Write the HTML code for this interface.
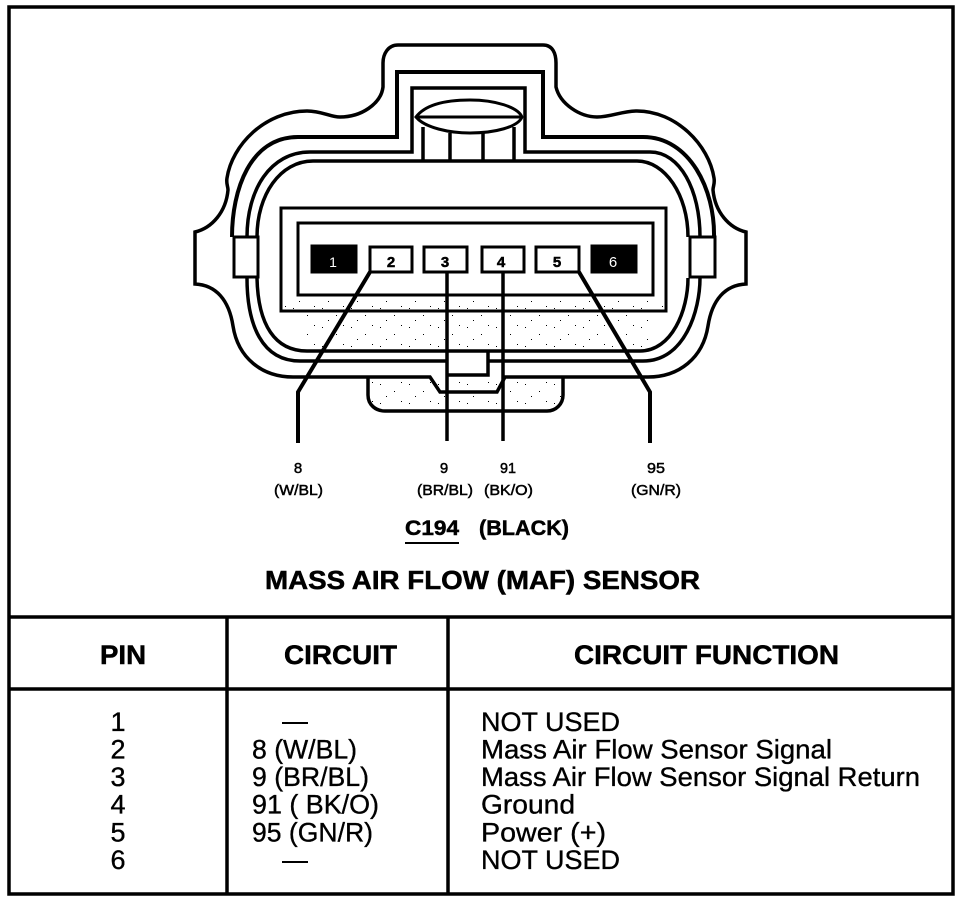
<!DOCTYPE html>
<html>
<head>
<meta charset="utf-8">
<title>Mass Air Flow Sensor</title>
<style>
html,body{margin:0;padding:0;background:#fff;width:976px;height:904px;overflow:hidden}
svg{display:block}
text{font-family:"Liberation Sans",Arial,sans-serif;fill:#000}
.b{font-weight:bold;stroke:#000;stroke-width:.5px}
.s{font-size:15px;stroke:#000;stroke-width:.5px}
.r{font-size:27px;stroke:#000;stroke-width:.35px}
</style>
</head>
<body>
<svg width="976" height="904" viewBox="0 0 976 904" xmlns="http://www.w3.org/2000/svg">
<defs>
<pattern id="dots" width="29" height="19" patternUnits="userSpaceOnUse">
<rect x="3" y="4" width="1" height="1" fill="#000"/>
<rect x="17" y="11" width="1" height="1" fill="#000"/>
<rect x="24" y="2" width="1" height="1" fill="#000"/>
<rect x="9" y="16" width="1" height="1" fill="#000"/>
</pattern>
</defs>
<rect width="976" height="904" fill="#fff"/>
<rect x="285" y="298" width="380" height="12" fill="url(#dots)"/>
<rect x="300" y="313" width="355" height="36" fill="url(#dots)"/>
<rect x="370" y="379" width="192" height="30" fill="url(#dots)"/>

<!-- frame -->
<g fill="none" stroke="#000" stroke-width="3.5">
<rect x="9" y="7" width="944" height="887"/>
<path d="M9 617H953M9 689H953M227 617V894M448 617V894"/>
</g>

<g fill="none" stroke="#000" stroke-width="3" stroke-linejoin="miter">
<!-- outer outline -->
<path d="M398,45 C388,45 383,54 383,63 L383,87 C381,104 361,117 340,117 C330,117 322,111 307,111 C265,111 232,145 227,178 C226,184 228,186 228,190 C226,212 212,228 195,232 L195,284 C216,285 229,300 233,326 C238,358 262,377 293,377 L430,377 L440,392 L497,392 L505,377 L648,377 C679,377 703,358 708,326 C712,300 725,285 746,284 L746,232 C729,228 715,212 713,190 C713,186 715,184 714,178 C709,145 676,111 637,111 C622,111 611,117 597,117 C580,117 560,104 556,87 L556,63 C556,54 553,45 543,45 Z" stroke-width="3.5"/>
<!-- lower tab -->
<path d="M368,378 L368,395 C368,405 376,411 385,411 L547,411 C556,411 563,404 563,395 L563,378" stroke-width="3.5"/>
<!-- layer 2 -->
<path d="M232,237 C232,190 250,137 298,137 L397,137 L397,72 L543,72 L543,137 L643,137 C690,137 715,190 714,237" stroke-width="4"/>
<!-- layer 3 -->
<path d="M247,237 C247,190 270,152 310,152 L412,152 L412,88 L525,88 L525,152 L650,152 C680,152 700,190 700,237" stroke-width="3.5"/>
<!-- layer 4 -->
<path d="M257,237 C257,195 280,161 313,161 L637,161 C665,161 688,195 688,237" stroke-width="3.5"/>
<!-- lower curves -->
<path d="M247,278 C247,325 262,361 300,361 L447,361M488,361 L643,361 C685,361 700,310 700,278" stroke-width="3.5"/>
<path d="M257,278 C258,325 275,351 307,351 L640,351 C672,351 688,310 688,278" stroke-width="3.5"/>
<path d="M488,351 L488,375 L447,375" stroke-width="3.5"/>
<!-- barrel -->
<path d="M416,117 C425,105 445,100 470,100 C495,100 518,107 522,117 C518,127 495,133 470,133 C450,133 425,128 416,117 Z"/>
<path d="M416,117 H522" />
<path d="M423,127V160M450,133V160M483,133V160M514,127V160" stroke-width="3.5"/>
<!-- clips -->
<rect x="234" y="237" width="24" height="40" fill="#fff"/>
<rect x="690" y="237" width="25" height="40" fill="#fff"/>
<!-- housing rects -->
<rect x="281" y="208" width="385" height="103"/>
<rect x="298" y="223" width="355" height="72"/>
<!-- pins -->
<rect x="312" y="246" width="44" height="26" fill="#000"/>
<rect x="370" y="247" width="42" height="25" fill="#fff"/>
<rect x="424" y="247" width="43" height="25" fill="#fff"/>
<rect x="482" y="247" width="42" height="25" fill="#fff"/>
<rect x="536" y="247" width="43" height="25" fill="#fff"/>
<rect x="592" y="246" width="44" height="26" fill="#000"/>
<!-- wires -->
<path d="M370,272 L298,392 L298,443" stroke-width="4"/>
<path d="M579,272 L650,392 L650,443" stroke-width="4"/>
<path d="M447,272V441M503,272V441" stroke-width="3.5"/>
</g>

<!-- pin numbers -->
<text x="333" y="267" font-size="14" text-anchor="middle" style="fill:#fff">1</text>
<text x="391" y="267" class="b" font-size="15" text-anchor="middle">2</text>
<text x="445" y="267" class="b" font-size="15" text-anchor="middle">3</text>
<text x="501" y="267" class="b" font-size="15" text-anchor="middle">4</text>
<text x="557" y="267" class="b" font-size="15" text-anchor="middle">5</text>
<text x="613" y="267" font-size="15" text-anchor="middle" style="fill:#fff">6</text>

<!-- wire labels -->
<text x="298" y="473" class="s" text-anchor="middle">8</text>
<text x="274" y="495" class="s" textLength="49" lengthAdjust="spacingAndGlyphs">(W/BL)</text>
<text x="444" y="473" class="s" text-anchor="middle">9</text>
<text x="417" y="495" class="s" textLength="56" lengthAdjust="spacingAndGlyphs">(BR/BL)</text>
<text x="500" y="473" class="s" textLength="16" lengthAdjust="spacingAndGlyphs">91</text>
<text x="484" y="495" class="s" textLength="49" lengthAdjust="spacingAndGlyphs">(BK/O)</text>
<text x="647" y="473" class="s" textLength="18" lengthAdjust="spacingAndGlyphs">95</text>
<text x="631" y="495" class="s" textLength="50" lengthAdjust="spacingAndGlyphs">(GN/R)</text>

<!-- titles -->
<text x="405" y="535" class="b" font-size="21" textLength="54" lengthAdjust="spacingAndGlyphs">C194</text>
<rect x="405" y="542" width="54" height="2" fill="#000"/>
<text x="479" y="535" class="b" font-size="21" textLength="90" lengthAdjust="spacingAndGlyphs">(BLACK)</text>
<text x="265" y="589" class="b" font-size="26" textLength="435" lengthAdjust="spacingAndGlyphs">MASS AIR FLOW (MAF) SENSOR</text>

<!-- table headers -->
<text x="100" y="664" class="b" font-size="27" textLength="46" lengthAdjust="spacingAndGlyphs">PIN</text>
<text x="284" y="664" class="b" font-size="27" textLength="113" lengthAdjust="spacingAndGlyphs">CIRCUIT</text>
<text x="574" y="664" class="b" font-size="27" textLength="265" lengthAdjust="spacingAndGlyphs">CIRCUIT FUNCTION</text>

<!-- pin column -->
<text x="118" y="731" class="r" text-anchor="middle">1</text>
<text x="118" y="758.5" class="r" text-anchor="middle">2</text>
<text x="118" y="786" class="r" text-anchor="middle">3</text>
<text x="118" y="813.5" class="r" text-anchor="middle">4</text>
<text x="118" y="841.5" class="r" text-anchor="middle">5</text>
<text x="118" y="869" class="r" text-anchor="middle">6</text>

<!-- circuit column -->
<rect x="282" y="722" width="26" height="2" fill="#000"/>
<text x="252" y="758.5" class="r" textLength="105" lengthAdjust="spacingAndGlyphs">8 (W/BL)</text>
<text x="252" y="786" class="r" textLength="117" lengthAdjust="spacingAndGlyphs">9 (BR/BL)</text>
<text x="252" y="813.5" class="r" textLength="127" lengthAdjust="spacingAndGlyphs">91 ( BK/O)</text>
<text x="252" y="841.5" class="r" textLength="121" lengthAdjust="spacingAndGlyphs">95 (GN/R)</text>
<rect x="282" y="861" width="26" height="2" fill="#000"/>

<!-- function column -->
<text x="481" y="731" class="r" textLength="139" lengthAdjust="spacingAndGlyphs">NOT USED</text>
<text x="481" y="758.5" class="r" textLength="351" lengthAdjust="spacingAndGlyphs">Mass Air Flow Sensor Signal</text>
<text x="481" y="786" class="r" textLength="439" lengthAdjust="spacingAndGlyphs">Mass Air Flow Sensor Signal Return</text>
<text x="481" y="813.5" class="r" textLength="94" lengthAdjust="spacingAndGlyphs">Ground</text>
<text x="481" y="841.5" class="r" textLength="125" lengthAdjust="spacingAndGlyphs">Power (+)</text>
<text x="481" y="869" class="r" textLength="139" lengthAdjust="spacingAndGlyphs">NOT USED</text>
</svg>
</body>
</html>
